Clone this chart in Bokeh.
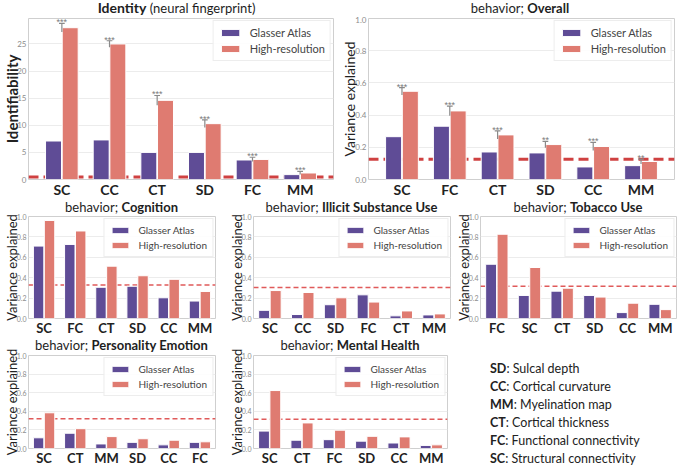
from bokeh.plotting import figure
from bokeh.models import (FactorRange, Range1d, Span, Legend, LegendItem,
                          ColumnDataSource, Div, NumeralTickFormatter)
from bokeh.transform import dodge
from bokeh.layouts import row, column
from bokeh.embed import file_html
from bokeh.resources import INLINE

# ---------------- data ----------------
identity_cats = ["SC", "CC", "CT", "SD", "FC", "MM"]
identity_glasser = [7.1, 7.3, 5.0, 5.0, 3.6, 0.9]
identity_highres = [28.0, 25.0, 14.6, 10.3, 3.7, 1.2]
identity_err = [0.8, 0.6, 0.9, 0.7, 0.4, 0.3]
identity_sig = ["***", "***", "***", "***", "***", "***"]
identity_chance = 0.45
identity_ticks = [0, 5, 10, 15, 20, 25]

overall_cats = ["SC", "FC", "CT", "SD", "CC", "MM"]
overall_glasser = [0.266, 0.331, 0.171, 0.165, 0.078, 0.086]
overall_highres = [0.548, 0.426, 0.277, 0.217, 0.205, 0.112]
overall_err = [0.023, 0.03, 0.025, 0.02, 0.025, 0.015]
overall_sig = ["***", "***", "***", "**", "***", "**"]
overall_chance = 0.126

cognition_cats = ["SC", "FC", "CT", "SD", "CC", "MM"]
cognition_glasser = [0.71, 0.726, 0.306, 0.316, 0.203, 0.171]
cognition_highres = [0.961, 0.858, 0.513, 0.419, 0.384, 0.265]
cognition_chance = 0.329

illicit_cats = ["SC", "CC", "SD", "FC", "CT", "MM"]
illicit_glasser = [0.08, 0.039, 0.135, 0.232, 0.026, 0.035]
illicit_highres = [0.274, 0.255, 0.203, 0.161, 0.074, 0.045]
illicit_chance = 0.303

tobacco_cats = ["FC", "SC", "CT", "SD", "CC", "MM"]
tobacco_glasser = [0.532, 0.226, 0.268, 0.226, 0.058, 0.139]
tobacco_highres = [0.826, 0.50, 0.297, 0.21, 0.15, 0.087]
tobacco_chance = 0.316

personality_cats = ["SC", "CT", "MM", "SD", "CC", "FC"]
personality_glasser = [0.115, 0.164, 0.049, 0.066, 0.039, 0.066]
personality_highres = [0.384, 0.213, 0.128, 0.105, 0.089, 0.072]
personality_chance = 0.32

mental_cats = ["SC", "CT", "FC", "SD", "CC", "MM"]
mental_glasser = [0.187, 0.089, 0.095, 0.079, 0.059, 0.033]
mental_highres = [0.623, 0.275, 0.197, 0.131, 0.125, 0.039]
mental_chance = 0.315

ratio_ticks = [0.0, 0.2, 0.4, 0.6, 0.8, 1.0]

key_abbr = ["SD", "CC", "MM", "CT", "FC", "SC"]
key_text = ["Sulcal depth", "Cortical curvature", "Myelination map",
            "Cortical thickness", "Functional connectivity", "Structural connectivity"]

series_names = ["Glasser Atlas", "High-resolution"]

PURPLE = "#5f4c96"
SALMON = "#df7b71"
FONT = "Lato"


def title_div(parts, width, height, left, right):
    html = "".join(
        f'<span style="font-weight:{"bold" if b else "normal"};font-size:{s}">{t}</span>'
        for t, b, s in parts)
    return Div(text=f'<div style="box-sizing:border-box;width:{width}px;height:{height}px;'
                    f'padding:0 {right}px 0 {left}px;text-align:center;overflow:visible;'
                    f'font-family:Lato;color:#1e1e1e;line-height:{height}px;'
                    f'white-space:nowrap;">{html}</div>',
               width=width, height=height, margin=0)


def make_panel(cats, glasser, highres, chance, *, width, height, ymax, ticks, fmt,
               ylabel, ylabel_bold, ylabel_size, top, right, pad,
               xlab_size, ytick_size, leg_font, leg_gw, leg_gh, leg_lh,
               chance_w, chance_color, chance_dash, err=None, sig=None, ystand=-6):
    src = ColumnDataSource(dict(cat=cats, g=glasser, h=highres))
    p = figure(x_range=FactorRange(factors=cats, range_padding=pad,
                                   range_padding_units="absolute"),
               y_range=Range1d(0, ymax), width=width, height=height,
               output_backend="svg", toolbar_location=None,
               min_border_left=0, min_border_right=right,
               min_border_top=top, min_border_bottom=0, margin=0)
    p.border_fill_alpha = 0
    p.outline_line_color = "#cfcfcf"
    p.outline_line_width = 1
    p.xgrid.grid_line_color = None
    p.ygrid.grid_line_color = "#ececec"
    p.yaxis.ticker = ticks
    p.yaxis.formatter = NumeralTickFormatter(format=fmt)

    for ax in (p.xaxis[0], p.yaxis[0]):
        ax.major_tick_out = 0
        ax.major_tick_in = 0
        ax.minor_tick_out = 0
        ax.minor_tick_in = 0
        ax.major_tick_line_color = None
        ax.minor_tick_line_color = None
        ax.axis_line_color = None
        ax.major_label_text_font = FONT

    p.yaxis.axis_label = ylabel
    p.yaxis.axis_label_text_font = FONT
    p.yaxis.axis_label_text_font_size = ylabel_size
    p.yaxis.axis_label_text_font_style = "bold" if ylabel_bold else "normal"
    p.yaxis.axis_label_text_color = "#222222"
    p.yaxis.axis_label_standoff = ystand
    p.yaxis.major_label_text_font_size = ytick_size
    p.yaxis.major_label_text_color = "#8c8c8c"
    p.yaxis.major_label_standoff = 2

    p.xaxis.axis_label = None
    p.xaxis.major_label_text_font_size = xlab_size
    p.xaxis.major_label_text_font_style = "bold"
    p.xaxis.major_label_text_color = "#222222"
    p.xaxis.major_label_standoff = 1

    p.add_layout(Span(location=chance, dimension="width", line_color=chance_color,
                      line_width=chance_w, line_dash=chance_dash, level="underlay"))

    r1 = p.vbar(x=dodge("cat", -0.175, range=p.x_range), top="g", width=0.335,
                source=src, fill_color=PURPLE, line_color="white", line_width=1)
    r2 = p.vbar(x=dodge("cat", 0.175, range=p.x_range), top="h", width=0.335,
                source=src, fill_color=SALMON, line_color="white", line_width=1)

    if err is not None:
        lo = [h - e for h, e in zip(highres, err)]
        hi = [h + e for h, e in zip(highres, err)]
        esrc = ColumnDataSource(dict(cat=cats, lo=lo, hi=hi, sig=sig))
        p.segment(x0="cat", x1="cat", y0="lo", y1="hi", source=esrc,
                  line_color="#8a8a8a", line_width=1.2)
        p.segment(x0=dodge("cat", -0.06, range=p.x_range),
                  x1=dodge("cat", 0.06, range=p.x_range),
                  y0="hi", y1="hi", source=esrc, line_color="#8a8a8a", line_width=1.2)
        p.text(x="cat", y="hi", text="sig", source=esrc, text_align="center",
               text_baseline="bottom", y_offset=4, text_font_size="9px",
               text_color="#7a7a7a")

    leg = Legend(items=[LegendItem(label=series_names[0], renderers=[r1]),
                        LegendItem(label=series_names[1], renderers=[r2])],
                 location="top_right", margin=2, padding=5, spacing=3,
                 glyph_width=leg_gw, glyph_height=leg_gh, label_height=leg_lh,
                 label_standoff=8, label_text_font=FONT,
                 label_text_font_size=leg_font, label_text_color="#444444",
                 border_line_color="#dcdcdc", background_fill_alpha=0.9)
    p.add_layout(leg)
    return p


big = dict(ymax=1.0, ticks=ratio_ticks, fmt="0.0", ylabel="Variance explained",
           ylabel_bold=False, ylabel_size="14px", top=2, pad=0.2,
           xlab_size="14px", ytick_size="8px", leg_font="11px", leg_gw=23,
           leg_gh=9, leg_lh=12, chance_w=3, chance_color="#cf4141", chance_dash="10 5")
small = dict(ymax=1.0, ticks=ratio_ticks, fmt="0.0", ylabel="Variance explained",
             ylabel_bold=False, ylabel_size="13px", pad=0.0,
             xlab_size="13px", ytick_size="7px", leg_font="10px", leg_gw=21,
             leg_gh=8, leg_lh=11, chance_w=1.5, chance_color="#e05a5a",
             chance_dash="5 3")

T1, T2, T3 = 16, 10, 10  # title strip heights per row

p1 = make_panel(identity_cats, identity_glasser, identity_highres, identity_chance,
                width=338, height=200 - T1,
                **{**big, "ymax": 29.7, "ticks": identity_ticks, "fmt": "0",
                   "ylabel": "Identifiability", "ylabel_bold": True, "ylabel_size": "15px"},
                right=5, err=identity_err, sig=identity_sig, ystand=-7)
t1 = title_div([("Identity", True, "14px"), ("&nbsp;(neural fingerprint)", False, "13px")],
               338, T1, 20, 5)
p2 = make_panel(overall_cats, overall_glasser, overall_highres, overall_chance,
                width=339, height=200 - T1, **big, right=3,
                err=overall_err, sig=overall_sig)
t2 = title_div([("behavior;&nbsp;", False, "13px"), ("Overall", True, "13px")],
               339, T1, 28, 3)

p3 = make_panel(cognition_cats, cognition_glasser, cognition_highres, cognition_chance,
                width=225, height=138 - T2, **small, top=6, right=10)
t3 = title_div([("behavior;&nbsp;", False, "13px"), ("Cognition", True, "13px")],
               225, T2, 28, 10)
p4 = make_panel(illicit_cats, illicit_glasser, illicit_highres, illicit_chance,
                width=227, height=138 - T2, **small, top=6, right=2)
t4 = title_div([("behavior;&nbsp;", False, "13px"), ("Illicit Substance Use", True, "13px")],
               227, T2, 28, 2)
p5 = make_panel(tobacco_cats, tobacco_glasser, tobacco_highres, tobacco_chance,
                width=225, height=138 - T2, **small, top=6, right=1)
t5 = title_div([("behavior;&nbsp;", False, "13px"), ("Tobacco Use", True, "13px")],
               225, T2, 28, 1)

p6 = make_panel(personality_cats, personality_glasser, personality_highres,
                personality_chance, width=225, height=130 - T3, **small, top=7, right=10)
t6 = title_div([("behavior;&nbsp;", False, "13px"), ("Personality Emotion", True, "13px")],
               225, T3, 28, 10)
p7 = make_panel(mental_cats, mental_glasser, mental_highres, mental_chance,
                width=227, height=130 - T3, **small, top=7, right=5)
t7 = title_div([("behavior;&nbsp;", False, "13px"), ("Mental Health", True, "13px")],
               227, T3, 28, 5)

lines = "".join(
    f'<div><b>{a}</b>: {t}</div>' for a, t in zip(key_abbr, key_text))
key = Div(text=f'<div style="padding:22px 0 0 38px; font-family:Lato; '
               f'font-size:12.5px; line-height:18px; color:#222;">{lines}</div>',
          width=225, height=130, margin=0)

layout = column(
    row(column(t1, p1, spacing=0, margin=0), column(t2, p2, spacing=0, margin=0),
        spacing=0, margin=0),
    row(column(t3, p3, spacing=0, margin=0), column(t4, p4, spacing=0, margin=0),
        column(t5, p5, spacing=0, margin=0), spacing=0, margin=0),
    row(column(t6, p6, spacing=0, margin=0), column(t7, p7, spacing=0, margin=0), key,
        spacing=0, margin=0),
    spacing=0, margin=0,
)

with open("out.html", "w") as f:
    f.write(file_html(layout, INLINE, title="chart"))
